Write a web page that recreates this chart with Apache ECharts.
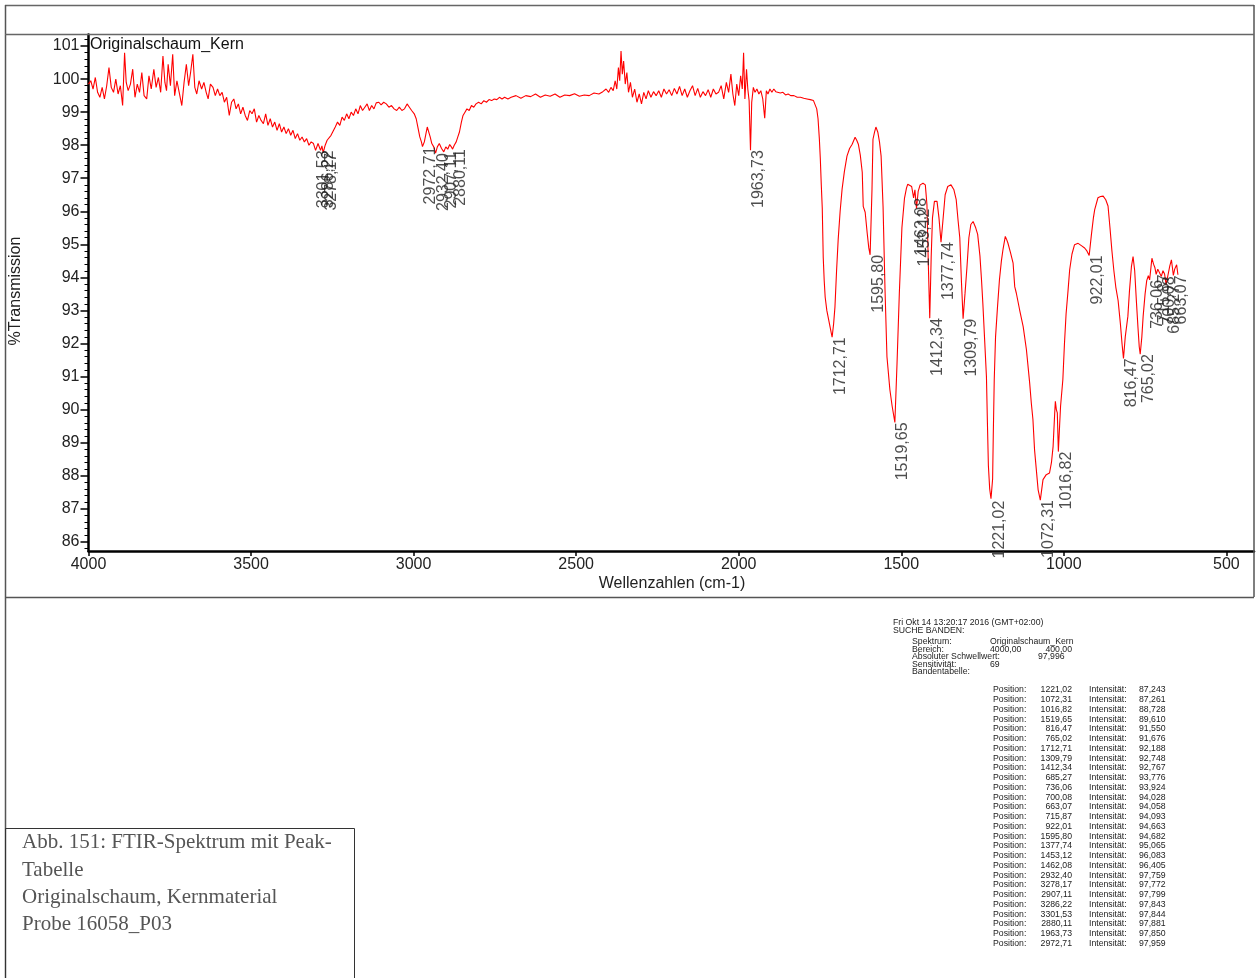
<!DOCTYPE html>
<html><head><meta charset="utf-8">
<script src="https://cdn.jsdelivr.net/npm/echarts@6/dist/echarts.min.js"></script>
<style>html,body{margin:0;padding:0;background:#fff}#c{width:1257px;height:978px}</style>
</head><body><div id="c"></div><script>
// ---------- DATA ----------
const xTicks = [4000, 3500, 3000, 2500, 2000, 1500, 1000, 500];
const yTicks = [86, 87, 88, 89, 90, 91, 92, 93, 94, 95, 96, 97, 98, 99, 100, 101];

const seg4000 = [[4000,99.85],[3993,99.95],[3986,99.7],[3979,100.05],[3972,99.6],[3965,99.45],[3958,99.75],[3951,99.4],[3944,99.8],[3937,100.35],[3930,99.75],[3923,99.6],[3916,100.0],[3909,99.55],[3902,99.8],[3895,99.2],[3889,100.8],[3884,99.9],[3878,99.65],[3871,99.85],[3864,100.3],[3857,99.45],[3850,99.85],[3843,99.6],[3836,100.2],[3829,99.5],[3821,99.4],[3814,100.1],[3807,99.7],[3799,100.3],[3792,99.75],[3785,100.05],[3778,99.6],[3771,100.7],[3765,99.9],[3760,99.65],[3755,100.45],[3748,99.8],[3741,100.75],[3735,99.5],[3728,99.95],[3721,99.6],[3713,99.2],[3706,99.9],[3699,100.45],[3692,99.8],[3686,100.2],[3679,100.75],[3673,99.75],[3667,99.55],[3660,99.95],[3652,99.7],[3645,99.9],[3638,99.6],[3632,99.4],[3625,99.85],[3617,99.75],[3610,99.5],[3603,99.7],[3596,99.5],[3589,99.6],[3582,99.3],[3575,99.45],[3567,98.9],[3560,99.3],[3553,99.4],[3546,99.1],[3539,99.25],[3532,98.95],[3525,99.15],[3518,98.9],[3511,98.75],[3504,99.05]];
const seg3500 = [[3497,98.95],[3490,99.1],[3483,98.7],[3476,98.9],[3469,98.75],[3462,98.65],[3455,98.95],[3448,98.6],[3441,98.8],[3434,98.55],[3427,98.7],[3420,98.45],[3413,98.65],[3406,98.4],[3399,98.55],[3392,98.35],[3385,98.5],[3378,98.3],[3371,98.45],[3364,98.2],[3357,98.35],[3350,98.15],[3343,98.25],[3336,98.1],[3329,98.2],[3322,98.0],[3315,98.1],[3308,98.05],[3301.53,97.844],[3294,98.05],[3286.22,97.843],[3282,97.98],[3278.17,97.772],[3272,98.0],[3266,98.15],[3260,98.1],[3254,98.3],[3248,98.25],[3241,98.55],[3234,98.7],[3227,98.6],[3220,98.85],[3213,98.75],[3206,98.95],[3199,98.8],[3192,99.0],[3185,98.9],[3178,99.1],[3171,98.95],[3164,99.2],[3157,99.05],[3150,99.15],[3143,99.25],[3136,99.05],[3129,99.2],[3122,99.1],[3115,99.28],[3107,99.3],[3100,99.22],[3092,99.3],[3084,99.25],[3076,99.15],[3068,99.2],[3060,99.1],[3052,99.05],[3044,99.15],[3036,99.05],[3028,99.1],[3020,99.25],[3013,99.15],[3006,99.05]];
const seg3000 = [[2998,98.95],[2992,98.8],[2986,98.5],[2981,98.25],[2976,98.1],[2972.71,97.959],[2967,98.1],[2962,98.35],[2958,98.55],[2954,98.5],[2949,98.25],[2944,98.05],[2938,97.95],[2932.4,97.759],[2927,97.95],[2921,98.05],[2914,97.9],[2907.11,97.799],[2901,97.95],[2895,97.88],[2889,98.02],[2884,97.95],[2880.11,97.881],[2875,98.0],[2869,98.1],[2864,98.25],[2859,98.4],[2853,98.7],[2848,98.9],[2842,99.0],[2836,99.1],[2829,99.05],[2822,99.2],[2815,99.15],[2808,99.25],[2800,99.3],[2792,99.25],[2784,99.35],[2776,99.3],[2768,99.38],[2760,99.35],[2752,99.4],[2744,99.38],[2736,99.45],[2728,99.4],[2720,99.45],[2710,99.4]];
const seg2700 = [[2700,99.45],[2685,99.5],[2670,99.42],[2655,99.5],[2640,99.47],[2625,99.55],[2610,99.45],[2595,99.52],[2580,99.48],[2565,99.55],[2550,99.45],[2535,99.52],[2520,99.5],[2505,99.56],[2490,99.48],[2475,99.52],[2460,99.5],[2445,99.58],[2430,99.55],[2418,99.62],[2408,99.7],[2400,99.6],[2393,99.75],[2386,99.65],[2380,99.95],[2375,99.7],[2370,100.35],[2366,99.95],[2362,100.85],[2358,100.15],[2354,100.55],[2349,99.85],[2344,100.2],[2339,99.6],[2333,99.9],[2327,99.45],[2320,99.7],[2313,99.3],[2306,99.55],[2299,99.25],[2292,99.6],[2285,99.4],[2278,99.65],[2270,99.45],[2262,99.62],[2254,99.5],[2246,99.65],[2238,99.45],[2230,99.7],[2222,99.55],[2214,99.68],[2206,99.5],[2198,99.72],[2190,99.55],[2182,99.78],[2174,99.5],[2166,99.7],[2158,99.45],[2150,99.65],[2142,99.8],[2134,99.5],[2126,99.72],[2118,99.45],[2110,99.62],[2102,99.5],[2094,99.68],[2086,99.45],[2078,99.7],[2070,99.55],[2062,99.6],[2054,99.8],[2046,99.4],[2038,99.9],[2031,99.6],[2024,100.15],[2018,99.55],[2012,99.2],[2006,99.85],[2000,99.5],[1994,100.1],[1989,99.7],[1985,100.8],[1981,99.4],[1976,100.3],[1972,99.7],[1968,99.35],[1963.73,97.85],[1960,99.3],[1955,99.75],[1950,99.6],[1944,99.7],[1938,99.55],[1932,99.65],[1926,99.4],[1920,98.82],[1915,99.65],[1910,99.55],[1904,99.7],[1898,99.6],[1892,99.7],[1886,99.62],[1880,99.68],[1872,99.58],[1864,99.6],[1856,99.52],[1848,99.55],[1840,99.5],[1830,99.5],[1820,99.45],[1810,99.45],[1800,99.42],[1790,99.4],[1780,99.38],[1770,99.35]];
const seg1765 = [[1765,99.3],[1760,99.1],[1756,98.8],[1752,98.2],[1749,97.6],[1746,96.8],[1743,96.1],[1740,94.6],[1737,93.9],[1734,93.4],[1729,93.0],[1724,92.75],[1719,92.5],[1712.71,92.188],[1708,92.6],[1704,93.1],[1699,94.2],[1694,95.15],[1688,96.0],[1682,96.67],[1675,97.2],[1667,97.67],[1659,97.9],[1651,98.03],[1642,98.24],[1637,98.15],[1632,98.03],[1626,97.7],[1620,97.18],[1617,96.15],[1611,95.97],[1605,95.36],[1600,94.9],[1595.8,94.682],[1590,96.67],[1587,98.18],[1582,98.4],[1578,98.55],[1572,98.39],[1567,98.1],[1562,97.67],[1556,96.15],[1550,93.64],[1544,91.6],[1535,90.6],[1528,90.1],[1519.65,89.61],[1513,91.4],[1506,93.5],[1498,95.5],[1490,96.4],[1484,96.7],[1480,96.82]];
const seg1475 = [[1475,96.82],[1468,96.75],[1462.08,96.405],[1458,96.65],[1453.12,96.083],[1448,96.6],[1442,96.8],[1433,96.85],[1426,96.8],[1421,96.2],[1417,94.5],[1412.34,92.767],[1408,94.6],[1404,95.8],[1398,96.3],[1390,96.3],[1384,95.8],[1377.74,95.065],[1372,95.7],[1365,96.5],[1357,96.75],[1347,96.8],[1338,96.65],[1331,96.35],[1325,95.7],[1320,95.2],[1315,93.9],[1309.79,92.748],[1304,93.5],[1298,94.3],[1292,95.2],[1286,95.6],[1279,95.69],[1271,95.5],[1265,95.3],[1258,94.65],[1253,93.9],[1249,93.2],[1244,92.2],[1238,91.0],[1235,89.6],[1232,88.3],[1228,87.6],[1224,87.3],[1221.02,87.243],[1219,87.9],[1217,89.2],[1214,90.9],[1210,92.2],[1204,93.1],[1198,93.93],[1192,94.5],[1187,94.85],[1180,95.24]];
const seg1176 = [[1176,95.15],[1172,95.04],[1164,94.75],[1156,94.43],[1151,93.72],[1146,93.52],[1136,93.02],[1125,92.51],[1115,91.81],[1105,90.8],[1100,90.2],[1095,89.7],[1090,88.78],[1079,87.57],[1072.31,87.261],[1064,87.88],[1054,88.03],[1044,88.08],[1038,88.4],[1033,88.88],[1028,89.9],[1026,90.25],[1023,90.0],[1020,89.9],[1016.82,88.728],[1013,89.5],[1010,90.1],[1003,90.9],[998,92.0],[993,92.9],[987,93.6],[982,94.23],[975,94.7],[967,94.99],[956,95.03],[946,94.96],[936,94.89],[929,94.8],[922.01,94.663],[915,95.3],[909,95.8],[905,96.05],[895,96.41],[887,96.45],[879,96.46],[871,96.35],[864,96.16],[858,95.5],[852,94.8]];
const seg846 = [[846,94.2],[840,93.7],[833,93.3],[826,92.6],[821,92.0],[816.47,91.55],[811,92.2],[803,92.82],[798,93.6],[792,94.33],[787,94.63],[782,94.2],[777,93.32],[772,92.5],[768,91.9],[765.02,91.676],[760,92.2],[756,92.82],[750,93.5],[745,93.9],[740,94.05],[736.06,93.924],[732,94.3],[729,94.58],[724,94.4],[720,94.3],[715.87,94.093],[711,94.25],[705,94.3],[700.08,94.028],[695,94.2],[690,94.1],[685.27,93.776],[680,94.05],[674,94.35],[669,94.53],[666,94.3],[663.07,94.058],[659,94.25],[653,94.38],[649,94.08]];

// band table (order as printed): [position, intensity]
const bands = [[1221.02,87.243],[1072.31,87.261],[1016.82,88.728],[1519.65,89.610],[816.47,91.550],[765.02,91.676],[1712.71,92.188],[1309.79,92.748],[1412.34,92.767],[685.27,93.776],[736.06,93.924],[700.08,94.028],[663.07,94.058],[715.87,94.093],[922.01,94.663],[1595.80,94.682],[1377.74,95.065],[1453.12,96.083],[1462.08,96.405],[2932.40,97.759],[3278.17,97.772],[2907.11,97.799],[3286.22,97.843],[3301.53,97.844],[2880.11,97.881],[1963.73,97.850],[2972.71,97.959]];

const seriesName = 'Originalschaum_Kern';
const xTitle = 'Wellenzahlen (cm-1)';
const yTitle = '%Transmission';
const headerLines = ['Fri Okt 14 13:20:17 2016 (GMT+02:00)', 'SUCHE BANDEN:'];
const metaLabels = ['Spektrum:', 'Bereich:', 'Absoluter Schwellwert:', 'Sensitivität:', 'Bandentabelle:'];
const metaValues = ['Originalschaum_Kern', '4000,00', '400,00', '97,996', '69'];
const captionLines = ['Abb. 151: FTIR-Spektrum mit Peak-', 'Tabelle', 'Originalschaum, Kernmaterial', 'Probe 16058_P03'];

// ---------- CHART ----------
const SANS = '"Liberation Sans", Arial, sans-serif';
const SERIF = '"Liberation Serif", "Times New Roman", serif';
const Y_MIN = 85.72, Y_MAX = 101.35;
const yMinor = [];
for (let k = 429; k <= 506; k++) { if (k % 5 !== 0) yMinor.push(k / 5); }
const spectrum = [].concat(seg4000, seg3500, seg3000, seg2700, seg1765, seg1475, seg1176, seg846);
const comma = (v, d) => v.toFixed(d).replace('.', ',');

function txt(x, y, text, o) {
  o = o || {};
  const al = o.align || 'left', va = o.va || 'middle';
  return { type: 'text', x: x, y: y, rotation: o.rotation || 0, silent: true, z: 10,
    style: { text: text, fill: o.color || '#222', fontSize: o.size || 8.7, fontFamily: o.family || SANS,
      align: al, textAlign: al, verticalAlign: va, textVerticalAlign: va } };
}
function ln(x1, y1, x2, y2, c, w) {
  return { type: 'line', silent: true, z: 5, shape: { x1: x1, y1: y1, x2: x2, y2: y2 }, style: { stroke: c, lineWidth: w } };
}

const g = [];
// frame
g.push(ln(5, 5.5, 1254, 5.5, '#666', 1.5));
g.push(ln(5.5, 5, 5.5, 978, '#555', 1.5));
g.push(ln(1254, 5, 1254, 597, '#555', 1.5));
g.push(ln(5, 34.5, 1254, 34.5, '#666', 1.3));
g.push(ln(5, 597.5, 1254, 597.5, '#555', 1.3));
g.push({ type: 'rect', silent: true, z: 5, shape: { x: 5.5, y: 828.5, width: 349, height: 160 }, style: { fill: 'none', stroke: '#333', lineWidth: 1 } });
// titles
g.push(txt(90, 45, seriesName, { size: 16, color: '#111' }));
g.push(txt(16, 291, yTitle, { size: 16, align: 'center', rotation: Math.PI / 2 }));
g.push(txt(672, 584, xTitle, { size: 16, align: 'center' }));
// table header
g.push(txt(893, 623, headerLines[0]));
g.push(txt(893, 631, headerLines[1]));
const metaY = [642, 649.5, 657, 664.5, 672];
metaLabels.forEach((t, i) => g.push(txt(912, metaY[i], t)));
g.push(txt(990, metaY[0], metaValues[0]));
g.push(txt(990, metaY[1], metaValues[1]));
g.push(txt(1072, metaY[1], metaValues[2], { align: 'right' }));
g.push(txt(1038, metaY[2], metaValues[3]));
g.push(txt(990, metaY[3], metaValues[4]));
bands.forEach((b, i) => {
  const y = 690 + i * 9.75;
  g.push(txt(993, y, 'Position:'));
  g.push(txt(1072, y, comma(b[0], 2), { align: 'right' }));
  g.push(txt(1089, y, 'Intensität:'));
  g.push(txt(1139, y, comma(b[1], 3)));
});
// caption
const capY = [842, 870, 897, 924];
captionLines.forEach((t, i) => g.push(txt(22, capY[i], t, { size: 21, family: SERIF, color: '#555' })));

const chart = echarts.init(document.getElementById('c'), null, { renderer: 'canvas' });
chart.setOption({
  animation: false,
  backgroundColor: '#fff',
  grid: { left: 88.5, top: 34.5, right: 3, bottom: 427, containLabel: false },
  xAxis: {
    type: 'value', inverse: true, min: 415, max: 4000,
    axisLine: { onZero: false, lineStyle: { color: '#000', width: 2.5 } },
    axisTick: { show: true, length: 5, customValues: xTicks, lineStyle: { color: '#000', width: 1.5 } },
    axisLabel: { customValues: xTicks, margin: 6, fontSize: 16, color: '#222', fontFamily: SANS,
      formatter: v => String(Math.round(v)) },
    splitLine: { show: false }
  },
  yAxis: [
    { type: 'value', min: Y_MIN, max: Y_MAX,
      axisLine: { show: true, onZero: false, lineStyle: { color: '#000', width: 2.5 } },
      axisTick: { show: true, length: 8, customValues: yTicks, lineStyle: { color: '#000', width: 1.5 } },
      axisLabel: { customValues: yTicks, margin: 9, fontSize: 16, color: '#222', fontFamily: SANS,
        formatter: v => String(Math.round(v)) },
      splitLine: { show: false } },
    { type: 'value', min: Y_MIN, max: Y_MAX, position: 'left', offset: 0,
      axisLine: { show: false, onZero: false },
      axisTick: { show: true, length: 4, customValues: yMinor, lineStyle: { color: '#000', width: 1 } },
      axisLabel: { show: false }, splitLine: { show: false } }
  ],
  series: [
    { type: 'line', data: spectrum, showSymbol: false, symbol: 'none', silent: true,
      lineStyle: { color: '#ff0000', width: 1.1 }, z: 3 },
    { type: 'scatter', data: bands, symbolSize: 0.1, silent: true, z: 4,
      itemStyle: { color: 'rgba(0,0,0,0)' },
      labelLayout: { hideOverlap: false },
      label: { show: true, position: 'inside', rotate: 90, align: 'right', verticalAlign: 'top',
        fontSize: 16, color: '#222', fontFamily: SANS,
        formatter: p => comma(p.value[0], 2) } }
  ],
  graphic: g
});
</script></body></html>
